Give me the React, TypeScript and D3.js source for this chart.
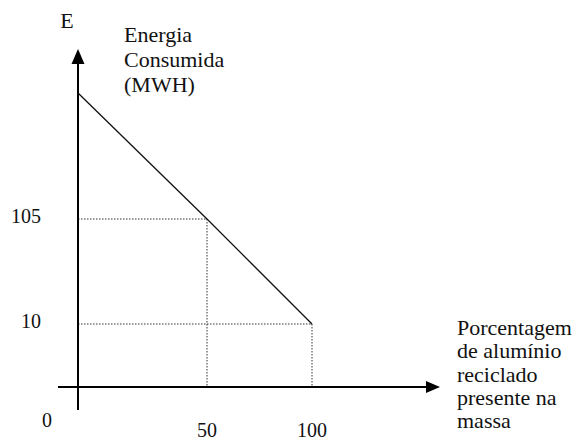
import React from "react";
import * as d3 from "d3";

const W = 579;
const H = 442;

// Data
const percentRecycled = [0, 50, 100];
const energyConsumed = [200, 105, 10];
const xTickValues = [50, 100];
const yTickValues = [105, 10];
const guideValues = [
  { x: 50, y: 105 },
  { x: 100, y: 10 },
];
const yAxisLabelLines = ["Energia", "Consumida", "(MWH)"];
const xAxisLabelLines = ["Porcentagem", "de alumínio", "reciclado", "presente na", "massa"];

export default function App() {
  // schematic (not-to-scale) axes, piecewise scales
  const x = d3.scaleLinear().domain([0, 50, 100]).range([78, 207, 312]);
  const y = d3.scaleLinear().domain([0, 10, 105, 200]).range([387, 324, 219, 93]);

  const pts = percentRecycled.map((p, i) => ({ x: p, y: energyConsumed[i] }));
  const line = d3
    .line<{ x: number; y: number }>()
    .x((d) => x(d.x))
    .y((d) => y(d.y));

  const x0 = x(0);
  const y0 = y(0);
  const txt = { fontFamily: "Liberation Serif, DejaVu Serif, serif", fill: "#111" } as const;

  return (
    <svg
      width={W}
      height={H}
      style={{ position: "absolute", left: 0, top: 0, background: "#fff" }}
    >
      {/* guide dotted lines */}
      {guideValues.map((g, i) => (
        <g key={i} stroke="#333" strokeWidth={1} strokeDasharray="1.5,1.5" fill="none">
          <line x1={x0} x2={x(g.x)} y1={y(g.y)} y2={y(g.y)} />
          <line x1={x(g.x)} x2={x(g.x)} y1={y(g.y)} y2={y0} />
        </g>
      ))}

      {/* data line */}
      <path d={line(pts) || ""} fill="none" stroke="#111" strokeWidth={1.3} />

      {/* x axis */}
      <line x1={58} x2={430} y1={y0} y2={y0} stroke="#000" strokeWidth={2} />
      <path d={`M440,${y0} L426,${y0 - 6} L426,${y0 + 6} Z`} fill="#000" />

      {/* y axis */}
      <line x1={x0} x2={x0} y1={410} y2={58} stroke="#000" strokeWidth={2} />
      <path d={`M${x0},49 L${x0 - 6.5},64 L${x0 + 6.5},64 Z`} fill="#000" />

      {/* tick labels */}
      {yTickValues.map((v) => (
        <text key={v} x={41} y={y(v) + 4} textAnchor="end" fontSize={20} style={txt}>
          {v}
        </text>
      ))}
      {xTickValues.map((v) => (
        <text key={v} x={x(v)} y={437} textAnchor="middle" fontSize={20} style={txt}>
          {v}
        </text>
      ))}
      <text x={47} y={427} textAnchor="middle" fontSize={20} style={txt}>
        0
      </text>

      {/* axis titles */}
      <text x={67} y={28} textAnchor="middle" fontSize={22} style={txt}>
        E
      </text>
      {yAxisLabelLines.map((s, i) => (
        <text key={s} x={124} y={42 + i * 25} fontSize={22} style={txt}>
          {s}
        </text>
      ))}
      {xAxisLabelLines.map((s, i) => (
        <text key={s} x={457} y={335 + i * 23.3} fontSize={22} style={txt}>
          {s}
        </text>
      ))}
    </svg>
  );
}
